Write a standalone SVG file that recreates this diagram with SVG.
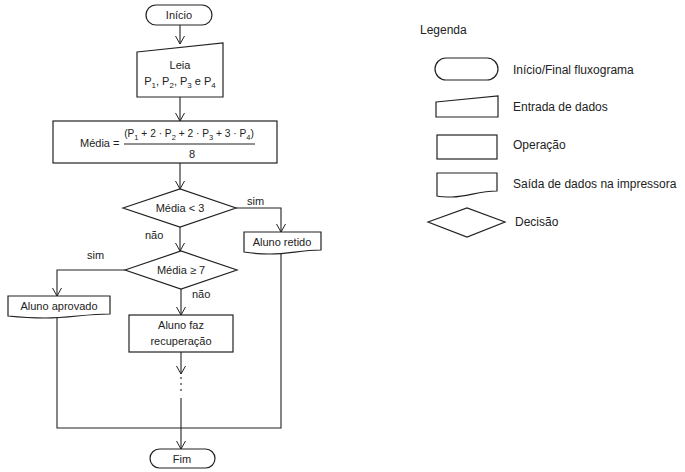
<svg xmlns="http://www.w3.org/2000/svg" width="685" height="472" viewBox="0 0 685 472">
<defs>
<marker id="arr" markerWidth="12" markerHeight="12" refX="10" refY="5" orient="auto" markerUnits="userSpaceOnUse" overflow="visible">
<path d="M2,0.5 L10,5 L2,9.5" fill="none" stroke="#222" stroke-width="1"/>
</marker>
<style>
.s{fill:#fff;stroke:#222;stroke-width:1.2}
.c{fill:none;stroke:#222;stroke-width:1.1}
text{font-family:"Liberation Sans",Arial,sans-serif;font-size:11px;fill:#222}
.m{text-anchor:middle}
.l{font-size:12px}
.sub{font-size:8px}
.f{font-size:10.2px}
.fs{font-size:7.5px}
</style>
</defs>
<rect width="685" height="472" fill="#fff"/>
<g id="connectors">
<line class="c" x1="180" y1="25" x2="180" y2="44" marker-end="url(#arr)"/>
<line class="c" x1="180" y1="97" x2="180" y2="121" marker-end="url(#arr)"/>
<line class="c" x1="180" y1="163" x2="180" y2="189" marker-end="url(#arr)"/>
<polyline class="c" points="236,208 281,208 281,232" marker-end="url(#arr)"/>
<line class="c" x1="180" y1="227" x2="180" y2="251" marker-end="url(#arr)"/>
<polyline class="c" points="125,270 57,270 57,296" marker-end="url(#arr)"/>
<line class="c" x1="181" y1="289" x2="181" y2="315" marker-end="url(#arr)"/>
<line class="c" x1="181" y1="352" x2="181" y2="374" marker-end="url(#arr)"/>
<line class="c" x1="181" y1="377" x2="181" y2="395" stroke-dasharray="2,4"/>
<line class="c" x1="181" y1="398" x2="181" y2="449" marker-end="url(#arr)"/>
<polyline class="c" points="57,317 57,428 281,428 281,252"/>
<text x="247" y="205">sim</text>
<text x="145" y="239">não</text>
<text x="87" y="259">sim</text>
<text x="192" y="298">não</text>
</g>
<g id="inicio">
<rect class="s" x="146" y="5" width="66" height="20" rx="10"/>
<text class="m" x="179" y="19">Início</text>
</g>
<g id="leia">
<polygon class="s" points="137,52 223,43 223,97 137,97"/>
<text class="m" x="180" y="69">Leia</text>
<text class="m" x="180" y="85">P<tspan class="sub" dy="3">1</tspan><tspan dy="-3">, P</tspan><tspan class="sub" dy="3">2</tspan><tspan dy="-3">, P</tspan><tspan class="sub" dy="3">3</tspan><tspan dy="-3"> e P</tspan><tspan class="sub" dy="3">4</tspan></text>
</g>
<g id="media">
<rect class="s" x="53" y="121" width="224" height="42"/>
<text x="80" y="147">Média =</text>
<text class="f m" x="189" y="137">(P<tspan class="fs" dy="2.5">1</tspan><tspan dy="-2.5"> + 2 · P</tspan><tspan class="fs" dy="2.5">2</tspan><tspan dy="-2.5"> + 2 · P</tspan><tspan class="fs" dy="2.5">3</tspan><tspan dy="-2.5"> + 3 · P</tspan><tspan class="fs" dy="2.5">4</tspan><tspan dy="-2.5">)</tspan></text>
<line x1="124" y1="144" x2="255" y2="144" stroke="#222" stroke-width="1"/>
<text class="m" x="192" y="158">8</text>
</g>
<g id="dec1">
<polygon class="s" points="123,208 180,189 236,208 180,227"/>
<text class="m" x="180" y="212">Média &lt; 3</text>
</g>
<g id="retido">
<path class="s" d="M244,232 H321 V250 C300,250 290,254 270,254 C258,254 250,253 244,252 Z"/>
<text class="m" x="282" y="246">Aluno retido</text>
</g>
<g id="dec2">
<polygon class="s" points="125,270 181,251 237,270 181,289"/>
<text class="m" x="181" y="274">Média ≥ 7</text>
</g>
<g id="aprovado">
<path class="s" d="M8,296 H110 V314 C85,314 70,318 45,318 C30,318 18,317 8,316 Z"/>
<text class="m" x="59" y="310">Aluno aprovado</text>
</g>
<g id="recuperacao">
<rect class="s" x="129" y="315" width="104" height="37"/>
<text class="m" x="181" y="329">Aluno faz</text>
<text class="m" x="181" y="345">recuperação</text>
</g>
<g id="fim">
<rect class="s" x="150" y="449" width="65" height="19" rx="9.5"/>
<text class="m" x="182" y="463">Fim</text>
</g>
<g id="legenda">
<text class="l" x="420" y="34">Legenda</text>
<rect class="s" x="435" y="58" width="63" height="22" rx="11"/>
<text class="l" x="513" y="74">Início/Final fluxograma</text>
<polygon class="s" points="436,102 498,96 498,117 436,117"/>
<text class="l" x="513" y="111">Entrada de dados</text>
<rect class="s" x="437" y="135" width="60" height="24"/>
<text class="l" x="513" y="149">Operação</text>
<path class="s" d="M437,173 H497 V191 C478,191 468,197 452,197 C446,197 441,197 437,196 Z"/>
<text class="l" x="513" y="188">Saída de dados na impressora</text>
<polygon class="s" points="428,222 467,208 505,222 467,237"/>
<text class="l" x="515" y="226">Decisão</text>
</g>
</svg>
